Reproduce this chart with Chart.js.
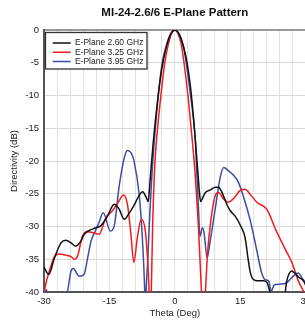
<!DOCTYPE html>
<html>
<head>
<meta charset="utf-8">
<script src="https://cdn.jsdelivr.net/npm/chart.js@4.4.1/dist/chart.umd.min.js"></script>
<style>
  html, body { margin: 0; padding: 0; background: #fff; overflow: hidden; width: 305px; height: 323px; }
  #wrap { position: absolute; left: 0; top: 0; width: 315px; height: 323px; }
</style>
</head>
<body>
<div id="wrap"><canvas id="c" width="315" height="323"></canvas></div>
<script>
// ---- data ----
const seriesNames = ['E-Plane 2.60 GHz', 'E-Plane 3.25 GHz', 'E-Plane 3.95 GHz'];

const theta260 = [-30, -28.9, -27.6, -26.1, -25, -23.8, -22.8, -21.5, -20.8, -19.6, -18.1, -17, -15.5, -13.9, -12.8, -11.6, -10.5, -9.4, -8.3, -7.4, -6.6, -6.1, -5.8, -5.5, -5.0, -4.0, -3.0, -2.0, -1.0, 0, 1.0, 2.0, 2.8, 3.8, 4.6, 5.25, 5.6, 5.9, 6.4, 7.0, 8.2, 9.3, 10.0, 10.8, 11.9, 12.7, 13.9, 15.0, 16.1, 16.8, 17.3, 18.0, 19.0, 20.3, 21.1, 21.8, 22.5, 25.0, 25.6, 26.8, 27.6, 28.5, 29.5, 30];
const db260    = [-36.2, -37.3, -34.8, -32.5, -32.1, -32.5, -33.0, -32.2, -31.2, -30.6, -30.2, -29.9, -28.5, -26.6, -27.3, -28.9, -28.0, -26.8, -25.4, -24.7, -25.5, -26.2, -24.0, -21.5, -17.5, -11.0, -6.0, -2.7, -0.7, 0, -0.7, -2.6, -5.0, -10.0, -16.0, -21.5, -24.5, -26.2, -25.6, -24.8, -24.4, -24.0, -24.0, -24.8, -26.6, -27.6, -28.5, -29.8, -31.7, -35.0, -37.0, -38.1, -38.3, -38.3, -38.5, -40.0, -41.5, -41.5, -38.5, -36.8, -37.2, -37.8, -38.3, -39.0];

const theta325 = [-30, -29.3, -28.4, -27.6, -26.5, -25, -23.8, -23.1, -22.3, -21.2, -20, -18.9, -17.4, -15.8, -14.3, -12.8, -11.8, -10.9, -10.1, -9.4, -8.6, -7.7, -6.8, -6.3, -5.9, -5.65, -5.4, -5.1, -4.7, -4.4, -3.2, -2.3, -1.5, -0.7, 0, 0.7, 1.5, 2.1, 3.0, 4.0, 4.6, 5.4, 6.1, 6.5, 7.0, 7.5, 8.1, 9.3, 10.0, 11.2, 12.3, 13.5, 15.0, 16.1, 17.3, 18.8, 21.1, 23.2, 25.4, 26.9, 28.3, 29.5, 30];
const db325    = [-40.0, -38.0, -36.0, -34.6, -34.2, -34.4, -34.6, -35.0, -34.5, -31.5, -30.8, -30.9, -31.2, -28.6, -27.6, -26.1, -25.2, -26.5, -31.0, -35.5, -31.7, -28.9, -30.5, -34.5, -40.0, -45.0, -40.0, -30.0, -22.0, -18.5, -10.0, -5.0, -2.2, -0.5, 0, -0.5, -2.3, -5.0, -10.0, -16.9, -21.5, -30.0, -40.0, -45.0, -40.0, -34.0, -29.9, -25.2, -24.8, -25.8, -26.3, -25.7, -24.5, -24.3, -25.1, -26.3, -27.4, -30.6, -33.6, -35.6, -38.3, -39.9, -40.6];

const theta395 = [-30, -29.5, -29.0, -28, -25.5, -24.6, -23.8, -23.3, -21.9, -20.8, -20, -19.2, -18.1, -17.4, -16.4, -14.8, -13.9, -12.8, -12.2, -11.6, -10.9, -10.0, -9.4, -8.2, -7.5, -6.9, -6.75, -6.6, -6.2, -5.7, -5.2, -4.7, -3.8, -2.9, -2.0, -1.0, 0, 1.0, 2.0, 2.6, 3.6, 4.7, 5.0, 5.4, 5.75, 6.3, 6.7, 7.4, 8.1, 9.3, 10.4, 11.2, 12.3, 13.5, 14.6, 15.8, 17.3, 18.8, 19.9, 20.7, 21.5, 22.1, 22.8, 24.1, 25.6, 26.8, 28.3, 29.1, 30];
const db395    = [-41.5, -39.6, -41.0, -44, -44, -40.0, -36.8, -36.4, -37.6, -37.3, -34.8, -32.2, -30.5, -29.4, -27.9, -30.7, -29.9, -24.0, -21.5, -19.5, -18.4, -18.8, -19.9, -25.0, -31.2, -40.0, -44, -40.0, -35.0, -27.5, -21.5, -16.9, -10.0, -5.0, -2.5, -0.6, 0, -0.6, -2.6, -5.0, -10.0, -16.9, -21.5, -27.0, -31.5, -30.2, -31.0, -34.8, -32.2, -27.1, -22.5, -21.0, -21.5, -22.2, -23.3, -25.6, -29.1, -33.7, -37.1, -38.1, -38.3, -39.9, -38.9, -38.8, -38.6, -37.8, -37.1, -37.8, -38.6];

const xTickLabels = [-30, -15, 0, 15, 30];
const yTickLabels = [0, -5, -10, -15, -20, -25, -30, -35, -40];

// ---- chart ----
const FONT = "'Liberation Sans', Arial, Helvetica, sans-serif";
const colors = ['#111111', '#f01c1c', '#3b4ea3'];
const toPts = (t, d) => t.map((v, i) => ({x: v, y: d[i]}));
const seriesData = [toPts(theta260, db260), toPts(theta325, db325), toPts(theta395, db395)];

const legendBoxPlugin = {
  id: 'legendBox',
  afterLayout(chart) {
    const a = chart.chartArea;
    chart.legend.left = a.left + 7.9;
    chart.legend.top = a.top + 7.9;
  },
  afterDraw(chart) {
    const a = chart.chartArea;
    const ctx = chart.ctx;
    ctx.save();
    ctx.fillStyle = '#ffffff';
    ctx.fillRect(a.left + 1.5, a.top + 2.5, 101.5, 36.5);
    ctx.strokeStyle = '#333333';
    ctx.lineWidth = 1.3;
    ctx.strokeRect(a.left + 1.5, a.top + 2.5, 101.5, 36.5);
    ctx.restore();
    chart.legend.draw();
  }
};

new Chart(document.getElementById('c'), {
  type: 'line',
  data: {
    datasets: seriesNames.map((name, i) => ({
      label: name,
      data: seriesData[i],
      borderColor: colors[i],
      backgroundColor: colors[i],
      borderWidth: 1.5,
      pointRadius: 0,
      fill: false,
      cubicInterpolationMode: 'monotone'
    }))
  },
  options: {
    responsive: false,
    animation: false,
    devicePixelRatio: 1,
    layout: { padding: { left: 0, right: 8, top: 0, bottom: 0 } },
    plugins: {
      title: {
        display: true,
        text: 'MI-24-2.6/6 E-Plane Pattern',
        fullSize: false,
        color: '#111',
        font: { family: FONT, size: 11.5, weight: 'bold', lineHeight: 1.2 },
        padding: { top: 5.6, bottom: 10.6 }
      },
      legend: {
        display: true,
        position: 'chartArea',
        align: 'start',
        labels: {
          usePointStyle: true,
          pointStyle: 'line',
          pointStyleWidth: 18,
          padding: 0.8,
          color: '#222',
          font: { family: FONT, size: 8.5, lineHeight: 1.0 }
        }
      },
      tooltip: { enabled: false }
    },
    scales: {
      x: {
        type: 'linear',
        min: -30,
        max: 30,
        afterFit(scale) { scale.height = 31; },
        ticks: {
          stepSize: 3,
          autoSkip: false,
          maxRotation: 0,
          padding: 4,
          color: '#222',
          font: { family: FONT, size: 9.5 },
          callback: (v) => xTickLabels.some(l => Math.abs(l - v) < 1e-6) ? String(Math.round(v)) : ''
        },
        grid: { color: '#e2e2e2', lineWidth: 1, drawTicks: false },
        border: { color: '#555555', width: 2 },
        title: {
          display: true,
          text: 'Theta (Deg)',
          color: '#222',
          font: { family: FONT, size: 9.5, lineHeight: 1.2 },
          padding: { top: 0, bottom: 4.3 }
        }
      },
      y: {
        min: -40,
        max: 0,
        afterFit(scale) { scale.width = 44; },
        ticks: {
          stepSize: 5,
          padding: 5,
          color: '#222',
          font: { family: FONT, size: 9.5 },
          callback: (v) => yTickLabels.includes(v) ? String(v) : ''
        },
        grid: {
          drawTicks: false,
          color: (c) => (c.tick && c.tick.value === 0) ? '#999999' : '#d9d9d9',
          lineWidth: (c) => (c.tick && c.tick.value === 0) ? 2 : 1
        },
        border: { color: '#555555', width: 2 },
        title: {
          display: true,
          text: 'Directivity (dB)',
          color: '#222',
          font: { family: FONT, size: 9.5, lineHeight: 1.2 },
          padding: { top: 9, bottom: 0 }
        }
      }
    }
  },
  plugins: [legendBoxPlugin]
});
</script>
</body>
</html>
